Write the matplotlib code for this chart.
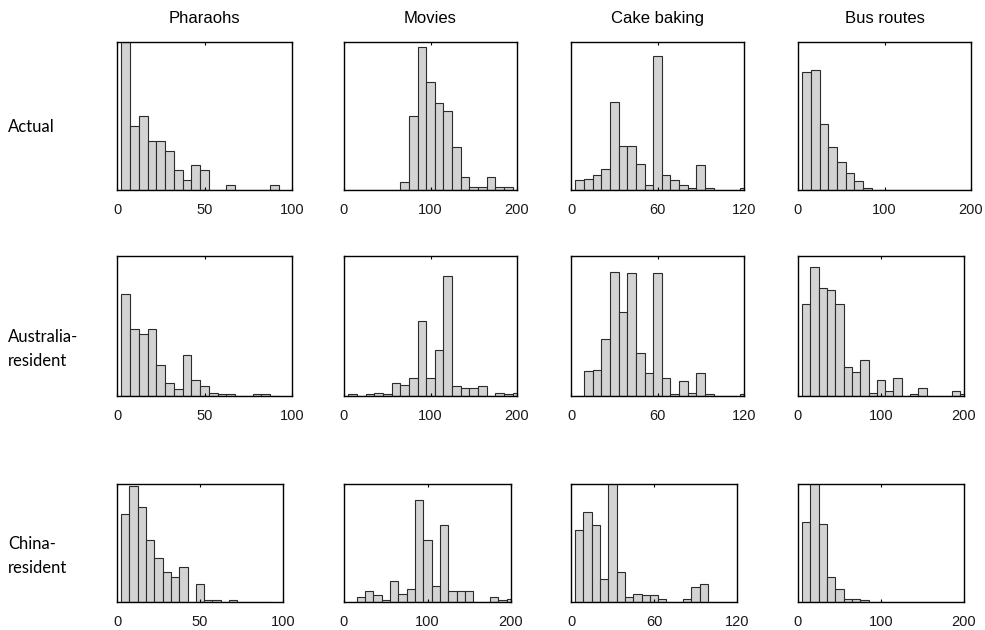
import matplotlib.pyplot as plt

# --- data (bar heights in arbitrary frequency units) ---
TOPICS = ['Pharaohs', 'Movies', 'Cake baking', 'Bus routes']
GROUPS = ['Actual', 'Australia-\nresident', 'China-\nresident']

pharaohs_centres = [5, 10, 15, 20, 25, 30, 35, 40, 45, 50, 55, 60, 65, 70, 75, 80, 85, 90]
pharaohs_actual = [44.3, 19.2, 22.2, 14.7, 14.7, 11.8, 5.9, 2.9, 7.4, 5.9, 0, 0, 1.4, 0, 0, 0, 0, 1.4]
pharaohs_aus = [30.5, 20.1, 18.6, 20.1, 9.3, 3.9, 2.0, 12.2, 4.9, 2.9, 1.0, 0.5, 0.5, 0, 0, 0.5, 0.5, 0]
pharaohs_china = [26.4, 34.7, 28.4, 18.7, 13.2, 8.9, 7.4, 10.4, 0, 5.4, 0.6, 0.6, 0, 0.6, 0, 0, 0, 0]

movies_centres = [10, 20, 30, 40, 50, 60, 70, 80, 90, 100,
                  110, 120, 130, 140, 150, 160, 170, 180, 190, 200]
movies_actual = [0, 0, 0, 0, 0, 0, 2.5, 22.2, 42.8, 32.4,
                 26.0, 23.6, 12.8, 3.9, 1.0, 1.0, 3.9, 1.0, 1.0, 0]
movies_aus = [0.5, 0, 0.5, 1.0, 0.5, 3.9, 3.4, 5.4, 22.6, 5.4,
              13.8, 36.0, 2.9, 2.4, 2.4, 2.9, 0, 1.0, 0.5, 1.0]
movies_china = [0, 1.5, 3.4, 2.0, 0.5, 6.4, 2.5, 3.9, 30.5, 18.7,
                4.9, 23.1, 3.4, 3.4, 3.4, 0, 0, 1.5, 0.5, 1.0]

cake_centres = [6, 12, 18, 24, 30, 36, 42, 48, 54, 60,
                66, 72, 78, 84, 90, 96, 102, 108, 114, 120]
cake_actual = [2.9, 3.4, 4.4, 6.4, 26.5, 13.3, 13.3, 7.9, 1.5, 40.3,
               4.4, 2.9, 1.5, 0.5, 7.4, 0.5, 0, 0, 0, 0.5]
cake_aus = [0, 7.4, 7.9, 17.2, 37.3, 25.1, 36.8, 12.8, 6.8, 36.8,
            5.4, 0.5, 4.4, 1.0, 6.8, 0.5, 0, 0, 0, 0.5]
cake_china = [21.6, 27.0, 23.1, 6.9, 36.0, 8.9, 1.5, 2.5, 2.0, 2.0,
              1.0, 0, 0, 1.0, 4.4, 5.4, 0, 0, 0, 0]

bus_centres = [10, 20, 30, 40, 50, 60, 70, 80, 90, 100,
               110, 120, 130, 140, 150, 160, 170, 180, 190, 200]
bus_actual = [35.3, 36.0, 19.7, 12.8, 8.3, 5.0, 2.7, 0.5, 0, 0,
              0, 0, 0, 0, 0, 0, 0, 0, 0, 0]
bus_aus = [27.5, 38.8, 32.3, 31.8, 27.5, 8.8, 7.3, 10.8, 1.0, 4.9,
           1.4, 5.4, 0, 0.5, 2.4, 0, 0, 0, 1.4, 0.5]
bus_china = [24.0, 36.0, 23.5, 7.4, 3.9, 1.0, 1.0, 0.5, 0, 0,
             0, 0, 0, 0, 0, 0, 0, 0, 0, 0]

centres = [pharaohs_centres, movies_centres, cake_centres, bus_centres]
bin_widths = [5, 10, 6, 10]
x_limits = [100, 200, 120, 200]
x_ticks = [[0, 50, 100], [0, 100, 200], [0, 60, 120], [0, 100, 200]]
counts = [
    [pharaohs_actual, movies_actual, cake_actual, bus_actual],
    [pharaohs_aus, movies_aus, cake_aus, bus_aus],
    [pharaohs_china, movies_china, cake_china, bus_china],
]

# --- layout in pixels (985 x 630 canvas) ---
W, H = 985, 630
col_left = [117, 344, 571, 798]
col_right = [
    [292, 517, 744, 971],
    [292, 517, 744, 964],
    [283, 511, 737, 964],
]
row_top = [42, 256, 484]
row_bottom = [190, 396, 602]
label_y = [127, 349, 556]

plt.rcParams['font.family'] = ['Liberation Sans', 'DejaVu Sans']

fig = plt.figure(figsize=(W / 100, H / 100), dpi=100)

for r in range(3):
    for c in range(4):
        l, rt = col_left[c], col_right[r][c]
        t, b = row_top[r], row_bottom[r]
        ax = fig.add_axes([l / W, 1 - b / H, (rt - l) / W, (b - t) / H])
        ax.bar(centres[c], counts[r][c], width=bin_widths[c],
               color='#d3d3d3', edgecolor='#2b2b2b', linewidth=0.8)
        ax.set_xlim(0, x_limits[c])
        # frequency units: 0.3 per pixel of axes height
        ax.set_ylim(0, (b - t) * 0.3)
        ax.set_xticks(x_ticks[c])
        ax.set_yticks([])
        ax.tick_params(axis='x', direction='in', length=2.5, width=0.8,
                       top=True, labelsize=10.5, pad=9, labelcolor='#1a1a1a')
        for sp in ax.spines.values():
            sp.set_linewidth(1.0)
            sp.set_color('black')
        if r == 0:
            ax.set_title(TOPICS[c], fontsize=12, pad=14)

for r in range(3):
    fig.text(8 / W, 1 - label_y[r] / H, GROUPS[r], ha='left', va='center',
             fontsize=12, family=['Lato', 'DejaVu Sans'], linespacing=1.55)

fig.savefig('out.png', dpi=100)
